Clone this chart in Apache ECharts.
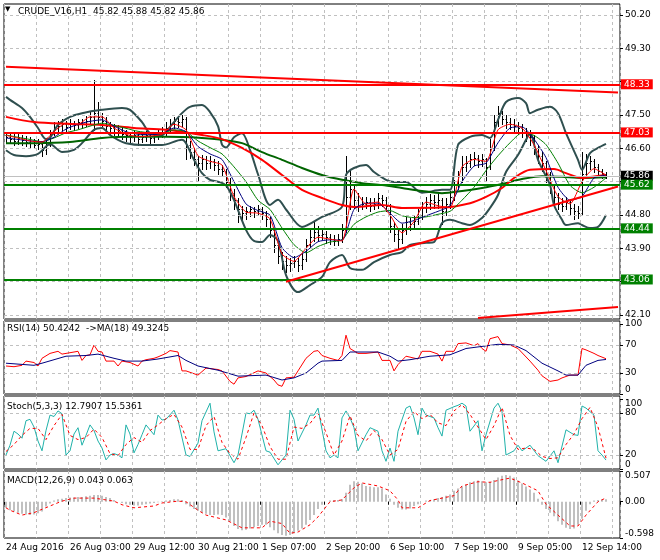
<!DOCTYPE html>
<html><head><meta charset="utf-8">
<script src="https://cdn.jsdelivr.net/npm/echarts@6/dist/echarts.min.js"></script>
<style>html,body{margin:0;padding:0;background:#fff}#c{width:660px;height:560px}</style>
</head><body><div id="c"></div>
<script>
const FONT = 'DejaVu Sans';
const N = 154;
const timeLabels = ['24 Aug 2016','26 Aug 03:00','29 Aug 12:00','30 Aug 21:00','1 Sep 07:00','2 Sep 20:00','6 Sep 10:00','7 Sep 19:00','9 Sep 05:00','12 Sep 14:00'];
const priceTicks = [42.10,43.00,43.90,44.80,45.70,46.60,47.50,48.40,49.30,50.20];
const priceLabelTicks = [42.10,43.90,44.80,46.60,47.50,49.30,50.20];
const rsiTicks = [0,30,70,100];
const rsiGrid = [30,70];
const stochTicks = [0,20,80,100];
const stochGrid = [20,80];
const macdTicks = [-0.598,0,0.507];

// [open, close, low, high]
const candles = [
[46.95,46.90,46.78,47.05],[46.90,46.85,46.75,47.00],[46.85,46.80,46.70,46.98],[46.80,46.88,46.72,47.02],[46.88,46.82,46.70,46.95],
[46.82,46.78,46.66,46.92],[46.78,46.75,46.62,46.90],[46.75,46.70,46.60,46.85],[46.70,46.72,46.58,46.84],[46.72,46.55,46.40,46.78],
[46.55,46.70,46.45,46.82],[46.70,47.00,46.65,47.10],[47.00,47.15,46.95,47.30],[47.15,47.20,47.05,47.35],[47.20,47.25,47.10,47.40],
[47.25,47.18,47.08,47.33],[47.18,47.28,47.12,47.38],[47.28,47.22,47.10,47.35],[47.22,47.30,47.15,47.40],[47.30,47.25,47.15,47.38],
[47.25,47.35,47.20,47.48],[47.35,47.45,47.28,47.60],[47.45,47.55,47.10,48.44],[47.55,47.45,47.25,47.85],[47.45,47.35,47.20,47.55],
[47.35,47.20,47.10,47.45],[47.20,47.15,47.00,47.30],[47.15,47.05,46.95,47.25],[47.05,47.10,46.90,47.22],[47.10,47.00,46.85,47.15],
[47.00,46.95,46.80,47.10],[46.95,46.90,46.75,47.05],[46.90,46.95,46.80,47.08],[46.95,46.85,46.70,47.00],[46.85,46.90,46.78,47.02],
[46.90,46.95,46.80,47.08],[46.95,46.88,46.75,47.02],[46.88,46.92,46.78,47.05],[46.92,47.00,46.85,47.12],[47.00,47.05,46.90,47.18],
[47.05,47.15,46.95,47.30],[47.15,47.25,47.05,47.38],[47.25,47.35,47.15,47.45],[47.35,47.30,47.18,47.42],[47.30,47.40,47.20,47.50],
[47.40,46.70,46.30,47.45],[46.70,46.50,46.35,46.80],[46.50,46.30,46.15,46.60],[46.30,46.20,45.75,46.40],[46.20,46.30,46.05,46.42],
[46.30,46.20,46.05,46.38],[46.20,46.25,46.08,46.38],[46.25,46.15,46.02,46.32],[46.15,46.05,45.92,46.25],[46.05,46.00,45.85,46.15],
[46.00,45.70,45.55,46.05],[45.70,45.40,45.20,45.80],[45.40,45.20,44.95,45.50],[45.20,44.95,44.60,45.25],[44.95,44.85,44.65,45.05],
[44.85,44.90,44.70,45.02],[44.90,44.95,44.78,45.05],[44.95,44.90,44.75,45.02],[44.90,44.95,44.80,45.08],[44.95,44.85,44.70,45.02],
[44.85,44.70,44.50,44.90],[44.70,44.40,44.20,44.75],[44.40,44.00,43.80,44.45],[44.00,43.70,43.50,44.05],[43.70,43.55,43.35,43.80],
[43.55,43.45,43.25,43.70],[43.45,43.50,43.30,43.65],[43.50,43.55,43.40,43.70],[43.55,43.45,43.28,43.65],[43.45,43.60,43.35,43.75],
[43.60,44.00,43.55,44.15],[44.00,44.20,43.90,44.40],[44.20,44.35,44.10,44.65],[44.35,44.25,44.10,44.50],[44.25,44.30,44.15,44.45],
[44.30,44.20,44.05,44.38],[44.20,44.15,44.02,44.30],[44.15,44.10,44.00,44.25],[44.10,44.15,44.00,44.30],[44.15,44.40,44.08,44.55],
[44.40,45.30,44.35,46.40],[45.30,45.50,44.95,46.00],[45.50,45.20,45.00,45.60],[45.20,45.05,44.90,45.40],[45.05,45.10,44.95,45.30],
[45.10,45.15,44.98,45.30],[45.15,45.05,44.92,45.25],[45.05,45.10,44.95,45.25],[45.10,45.25,45.00,45.40],[45.25,45.20,45.05,45.35],
[45.20,45.05,44.90,45.28],[45.05,44.50,44.35,45.10],[44.50,44.30,44.10,44.60],[44.30,44.15,43.90,44.40],[44.15,44.40,44.05,44.55],
[44.40,44.60,44.30,44.75],[44.60,44.55,44.40,44.72],[44.55,44.65,44.42,44.80],[44.65,44.80,44.55,44.95],[44.80,45.00,44.70,45.15],
[45.00,45.10,44.88,45.30],[45.10,45.20,44.95,45.38],[45.20,45.15,44.98,45.35],[45.15,45.20,45.00,45.40],[45.20,44.90,44.55,45.25],
[44.90,45.10,44.80,45.25],[45.10,45.30,45.00,45.45],[45.30,45.60,45.20,45.75],[45.60,45.85,45.50,46.00],[45.85,46.10,45.70,46.40],
[46.10,46.20,46.00,46.38],[46.20,46.30,46.10,46.45],[46.30,46.35,46.15,46.50],[46.35,46.25,46.10,46.42],[46.25,46.30,46.12,46.45],
[46.30,46.10,45.75,46.35],[46.10,46.60,46.05,46.85],[46.60,47.30,46.55,47.50],[47.30,47.55,47.20,47.75],[47.55,47.40,47.25,47.62],
[47.40,47.30,47.15,47.50],[47.30,47.25,47.12,47.42],[47.25,47.20,47.05,47.38],[47.20,47.15,47.00,47.32],[47.15,47.05,46.90,47.25],
[47.05,46.95,46.80,47.15],[46.95,46.90,46.70,47.10],[46.90,46.60,46.45,46.95],[46.60,46.40,46.20,46.70],[46.40,46.20,46.00,46.50],
[46.20,45.90,45.70,46.25],[45.90,45.60,45.40,45.95],[45.60,45.30,45.10,45.65],[45.30,45.10,44.95,45.40],[45.10,45.05,44.90,45.25],
[45.05,45.15,44.95,45.30],[45.15,45.00,44.82,45.22],[45.00,44.90,44.70,45.10],[44.90,44.85,44.72,45.05],[44.85,45.90,44.80,46.50],
[45.90,46.20,45.85,46.45],[46.20,46.25,46.05,46.40],[46.25,46.10,45.95,46.30],[46.10,46.00,45.88,46.18],[46.00,45.90,45.80,46.05],
[45.90,45.86,45.80,45.95]
];

const maFast = [[0,46.95],[3,46.88],[6,46.80],[9,46.77],[12,47.05],[15,47.28],[18,47.25],[21,47.45],[24,47.45],[27,47.15],[30,46.98],[33,46.92],[36,46.93],[39,46.98],[42,47.25],[45,47.10],[48,46.40],[51,46.25],[54,46.15],[57,45.30],[60,44.88],[63,44.85],[66,44.70],[69,43.75],[72,43.55],[75,43.90],[78,44.20],[81,44.15],[84,44.10],[87,45.50],[90,45.10],[93,45.15],[96,44.80],[99,44.32],[102,44.62],[105,45.15],[108,45.05],[111,45.00],[114,46.10],[117,46.30],[120,46.25],[123,47.10],[126,47.25],[129,47.15],[132,46.70],[135,46.00],[138,45.30],[141,45.10],[144,45.70],[147,46.05],[150,45.88]];
const maMid = [[0,46.88],[3,46.84],[6,46.80],[9,46.78],[12,46.90],[15,47.12],[18,47.25],[21,47.33],[24,47.37],[27,47.20],[30,47.05],[33,46.98],[36,46.97],[39,47.00],[42,47.15],[45,47.05],[48,46.65],[51,46.45],[54,46.30],[57,45.70],[60,45.10],[63,44.92],[66,44.80],[69,43.92],[72,43.65],[75,43.82],[78,44.08],[81,44.13],[84,44.12],[87,44.95],[90,45.12],[93,45.12],[96,44.85],[99,44.58],[102,44.65],[105,44.78],[108,44.90],[111,45.05],[114,45.70],[117,46.12],[120,46.20],[123,46.75],[126,47.15],[129,47.18],[132,46.85],[135,46.35],[138,45.55],[141,45.20],[144,45.30],[147,45.80],[150,45.88]];
const maSlowThin = [[0,46.96],[3,46.90],[6,46.84],[9,46.78],[12,46.88],[15,47.02],[18,47.10],[21,47.20],[24,47.28],[27,47.22],[30,47.14],[33,47.06],[36,47.02],[39,47.01],[42,47.10],[45,47.05],[48,46.80],[51,46.62],[54,46.45],[57,46.10],[60,45.70],[63,45.20],[66,44.95],[69,44.45],[72,44.00],[75,43.78],[78,43.95],[81,44.07],[84,44.13],[87,44.55],[90,44.75],[93,44.88],[96,44.92],[99,44.78],[102,44.73],[105,44.75],[108,44.82],[111,44.90],[114,45.20],[117,45.55],[120,46.00],[123,46.40],[126,46.75],[129,47.02],[132,46.95],[135,46.70],[138,46.20],[141,45.60],[144,45.40],[147,45.55],[150,45.80]];
const maRedThick = [[0,47.45],[7,47.31],[16,47.26],[24,47.23],[32,47.15],[40,47.10],[49,46.96],[54,46.85],[59,46.61],[64,46.29],[69,45.88],[74,45.48],[79,45.26],[84,45.07],[87,45.02],[94,45.07],[99,44.99],[109,45.00],[116,45.12],[120,45.29],[124,45.53],[127,45.80],[131,46.02],[137,46.04],[140,45.93],[144,45.80],[147,45.84],[150,45.88]];
const maGreenThick = [[0,46.74],[7,46.74],[16,46.77],[24,46.88],[32,46.91],[40,46.91],[49,46.88],[54,46.83],[59,46.74],[64,46.50],[69,46.29],[74,46.07],[79,45.88],[84,45.75],[89,45.66],[94,45.61],[99,45.53],[104,45.45],[109,45.39],[114,45.45],[119,45.53],[124,45.64],[129,45.77],[134,45.85],[139,45.83],[144,45.80],[150,45.82]];
const bbUpper = [[0,47.99],[1,47.91],[4,47.69],[6,47.45],[8,47.15],[10,46.85],[11,46.88],[13,47.23],[16,47.45],[19,47.55],[24,47.64],[29,47.69],[31,47.64],[34,47.31],[36,47.01],[39,46.96],[41,47.18],[44,47.55],[46,47.72],[49,47.77],[51,47.58],[53,47.20],[54,46.70],[55,46.62],[57,46.90],[59,47.01],[61,46.56],[63,45.90],[66,45.07],[68,45.21],[70,44.95],[74,44.48],[79,44.75],[84,45.02],[85,45.88],[87,46.07],[90,46.15],[92,45.96],[95,45.75],[97,45.69],[100,45.69],[104,45.40],[109,45.48],[111,45.48],[113,46.69],[116,46.91],[119,46.96],[121,46.88],[123,47.37],[125,47.85],[128,47.96],[130,47.82],[131,47.55],[133,47.64],[136,47.72],[138,47.55],[140,47.01],[143,46.29],[144,46.02],[146,46.47],[148,46.61],[150,46.72]];
const bbLower = [[0,46.55],[2,46.42],[5,46.39],[8,46.45],[10,46.65],[11,46.72],[13,46.56],[14,46.50],[17,46.56],[19,46.74],[22,47.10],[24,47.15],[26,46.96],[28,46.83],[30,46.74],[34,46.69],[39,46.69],[44,46.83],[45,46.74],[47,46.29],[49,45.93],[51,45.75],[53,45.70],[55,45.60],[57,45.20],[60,44.40],[62,44.10],[64,44.07],[66,44.26],[68,44.10],[70,43.18],[73,42.72],[76,42.91],[79,43.13],[81,43.53],[84,43.72],[86,43.37],[89,43.32],[92,43.53],[96,43.72],[99,43.80],[101,43.99],[105,44.05],[107,44.07],[109,44.58],[111,44.67],[114,44.58],[116,44.53],[119,44.72],[121,44.99],[123,45.34],[125,45.96],[128,46.42],[130,46.83],[131,47.01],[133,46.29],[136,45.61],[137,45.07],[139,44.67],[140,44.53],[143,44.58],[144,44.53],[146,44.45],[148,44.48],[150,44.80]];

const levelsRed = [48.33, 47.03];
const levelsGreen = [45.62, 44.44, 43.06];
const lastPrice = 45.86;
const trendLines = [
  [[0,48.80],[153,48.11]],
  [[70,43.00],[153,45.57]],
  [[118,42.02],[153,42.32]]
];

const rsi = [[0,40],[2,39],[4,41],[5,47],[7,45],[8,40],[9,51],[11,58],[13,61],[14,57],[16,59],[18,61],[19,48],[20,55],[21,56],[22,70],[23,61],[24,60],[25,47],[27,47],[28,40],[29,47],[31,45],[33,40],[34,47],[35,49],[37,51],[38,53],[40,58],[41,62],[43,60],[44,33],[45,33],[48,27],[50,37],[53,35],[54,33],[56,18],[57,14],[58,23],[60,25],[63,33],[65,30],[67,20],[68,13],[69,11],[70,23],[72,24],[73,33],[75,51],[77,61],[78,62],[79,55],[81,51],[83,48],[84,55],[85,84],[86,65],[88,58],[90,58],[93,60],[94,48],[96,48],[97,33],[98,42],[100,54],[103,50],[104,61],[106,61],[108,57],[109,47],[110,61],[112,61],[113,72],[115,73],[117,69],[118,72],[119,65],[120,61],[121,79],[123,82],[124,72],[126,70],[128,65],[131,47],[133,34],[134,26],[136,18],[138,20],[139,23],[141,27],[143,27],[144,65],[145,63],[147,58],[148,55],[150,50.42]];
const rsiMa = [[0,44],[7,41],[9,44],[15,54],[20,55],[23,57],[27,51],[30,47],[34,47],[38,50],[43,55],[45,48],[48,40],[53,34],[58,25.5],[65,27],[69,20],[72,23],[75,30],[78,44],[79,47],[84,48],[86,60],[93,60],[96,54],[98,47],[101,49],[106,54],[111,56],[115,65],[119,68],[123,71],[127,70],[130,62],[134,44],[138,33],[140,27],[143,27],[145,41],[148,48],[150,49.32]];

const stochMain = [[0,20],[1,34],[2,54],[3,50],[4,44],[5,69],[6,71],[7,60],[8,40],[9,26],[10,55],[11,77],[12,75],[13,83],[14,79],[15,20],[16,26],[17,50],[18,59],[19,34],[20,48],[21,63],[22,55],[23,40],[24,30],[25,13],[26,20],[27,22],[28,20],[29,16],[30,63],[31,50],[32,23],[33,35],[34,49],[35,63],[37,49],[38,77],[39,70],[40,71],[42,84],[43,70],[45,20],[46,18],[48,37],[49,69],[51,94],[52,53],[53,26],[55,29],[57,9],[58,20],[60,80],[61,79],[62,84],[63,71],[65,26],[66,24],[68,6],[70,20],[71,84],[72,71],[73,40],[75,63],[76,77],[77,77],[78,87],[80,26],[81,16],[82,20],[83,16],[84,73],[85,83],[86,73],[87,59],[88,26],[90,49],[91,59],[93,54],[94,26],[95,11],[96,30],[97,11],[98,54],[100,87],[101,90],[102,73],[103,49],[104,87],[105,77],[107,73],[108,59],[109,47],[110,84],[112,89],[113,91],[114,94],[115,90],[116,54],[118,69],[119,26],[120,49],[122,87],[123,94],[124,82],[125,20],[127,26],[128,34],[129,26],[131,34],[133,19],[134,15],[135,11],[137,26],[138,9],[140,56],[142,49],[143,48],[144,90],[145,87],[147,77],[148,26],[149,20],[150,12.79]];
const stochSignal = [[0,25],[2,35],[4,48],[6,58],[8,58],[10,42],[12,62],[14,78],[16,48],[18,42],[20,45],[22,57],[24,45],[26,22],[28,19],[30,35],[32,45],[34,38],[36,55],[38,63],[40,72],[42,78],[44,60],[46,28],[48,28],[50,62],[52,75],[54,38],[56,22],[58,14],[60,45],[62,80],[64,62],[66,32],[68,14],[70,14],[72,60],[74,58],[76,65],[78,80],[80,52],[82,20],[84,40],[86,76],[88,48],[90,40],[92,55],[94,42],[96,20],[98,28],[100,68],[102,82],[104,72],[106,78],[108,66],[110,62],[112,83],[114,92],[116,78],[118,60],[120,42],[122,62],[124,88],[126,48],[128,28],[130,30],[132,28],[134,18],[136,15],[138,16],[140,35],[142,50],[144,72],[146,88],[148,60],[150,15.54]];

const macdHist = [
-0.10,-0.14,-0.16,-0.18,-0.20,-0.21,-0.22,-0.21,-0.19,-0.16,
-0.08,-0.03,0.02,0.04,0.05,0.06,0.07,0.07,0.08,0.08,
0.09,0.10,0.11,0.11,0.10,0.08,0.06,0.03,0.00,-0.02,
-0.04,-0.05,-0.06,-0.06,-0.05,-0.04,-0.03,-0.02,-0.01,0.01,
0.02,0.03,0.04,0.04,0.03,-0.04,-0.08,-0.12,-0.15,-0.18,
-0.20,-0.22,-0.22,-0.21,-0.22,-0.26,-0.32,-0.40,-0.45,-0.47,
-0.46,-0.44,-0.42,-0.40,-0.38,-0.38,-0.42,-0.47,-0.52,-0.55,
-0.56,-0.55,-0.52,-0.48,-0.44,-0.38,-0.30,-0.22,-0.12,-0.05,
0.00,0.02,0.03,0.03,0.04,0.15,0.28,0.34,0.33,0.30,
0.26,0.25,0.24,0.24,0.22,0.12,0.05,-0.05,-0.10,-0.13,
-0.13,-0.11,-0.07,-0.04,0.00,0.02,0.03,0.04,0.06,0.08,
0.10,0.12,0.18,0.22,0.25,0.28,0.32,0.34,0.35,0.34,
0.32,0.33,0.36,0.40,0.43,0.44,0.43,0.40,0.35,0.30,
0.25,0.20,0.15,0.05,-0.05,-0.12,-0.18,-0.24,-0.32,-0.38,
-0.43,-0.45,-0.44,-0.38,-0.28,-0.15,-0.04,0.02,0.03,0.04,
0.043];
const macdSignal = [[0,-0.10],[1,-0.14],[4,-0.22],[7,-0.18],[11,-0.07],[14,0.01],[17,0.06],[22,0.06],[27,0.01],[29,-0.05],[32,-0.10],[37,-0.07],[39,-0.02],[43,0.01],[45,0.00],[48,-0.14],[50,-0.22],[55,-0.30],[59,-0.43],[64,-0.43],[66,-0.32],[69,-0.36],[71,-0.52],[73,-0.50],[76,-0.38],[78,-0.25],[81,0.00],[84,0.03],[87,0.23],[89,0.31],[93,0.26],[96,0.18],[98,0.03],[99,-0.10],[103,-0.10],[106,0.02],[109,0.06],[112,0.10],[114,0.26],[118,0.33],[121,0.32],[123,0.35],[126,0.39],[129,0.31],[133,0.18],[135,-0.04],[138,-0.22],[141,-0.40],[143,-0.40],[145,-0.22],[148,0.00],[150,0.063]];

const categories = Array.from({length: N}, (_, i) => String(i));
const GRID = '#c0c0c0';
const DASH = [3, 3];

function ln(data, color, width, g, opts) {
  return Object.assign({type: 'line', data: data, xAxisIndex: g, yAxisIndex: g, symbol: 'none', showSymbol: false,
    lineStyle: {color: color, width: width}, silent: true, z: 3}, opts || {});
}
function gridMarks(g, vals) {
  return {type: 'line', data: [], xAxisIndex: g, yAxisIndex: g, z: 1, silent: true,
    markLine: {silent: true, symbol: ['none','none'], label: {show: false},
      lineStyle: {color: GRID, type: DASH, width: 1},
      data: vals.map(v => ({yAxis: v}))}};
}
function levelLabel(bg) {
  return {show: true, position: 'end', distance: 1, formatter: p => p.value.toFixed(2),
    color: '#fff', backgroundColor: bg, padding: [1, 3, 0, 3], fontSize: 9, fontFamily: FONT};
}
const xAxes = [0,1,2,3].map(g => ({
  type: 'category', gridIndex: g, data: categories, boundaryGap: true,
  axisLine: {show: false},
  axisTick: g === 3 ? {show: true, length: 3, interval: (i) => i % 16 === 0, lineStyle: {color: '#000'}} : {show: false},
  axisLabel: g === 3 ? {show: true, interval: (i) => i % 16 === 0, formatter: (v, i) => timeLabels[i / 16],
    align: 'left', color: '#000', fontSize: 9, fontFamily: FONT, margin: 5} : {show: false},
  splitLine: {show: true, interval: (i) => i % 8 === 0, lineStyle: {color: GRID, type: DASH, width: 1}}
}));
function yAx(g, min, max, ticks, labels, fmt, alignMin, alignMax) {
  const lab = {show: true, customValues: labels, formatter: fmt, color: '#000', fontSize: 9, fontFamily: FONT, margin: 5,
    showMinLabel: true, showMaxLabel: true, hideOverlap: false};
  if (alignMin) lab.verticalAlignMinLabel = 'bottom';
  if (alignMax) lab.verticalAlignMaxLabel = 'top';
  return {type: 'value', gridIndex: g, position: 'right', min: min, max: max,
    axisLine: {show: false}, splitLine: {show: false},
    axisTick: {show: true, length: 3, customValues: ticks, lineStyle: {color: '#000'}},
    axisLabel: lab};
}
const gridBase = {left: 4, width: 616, show: true, borderColor: '#000', borderWidth: 1, backgroundColor: 'transparent'};
const tStyle = {fontSize: 9, fontWeight: 'normal', color: '#000', fontFamily: FONT};

// OHLC bars (MetaTrader style): vertical high-low line, open tick left, close tick right
function renderBar(params, api) {
  const i = api.value(0);
  const pO = api.coord([i, api.value(1)]);
  const pC = api.coord([i, api.value(2)]);
  const pL = api.coord([i, api.value(3)]);
  const pH = api.coord([i, api.value(4)]);
  const x = Math.round(pL[0]) + 0.5;
  const st = {stroke: '#000', lineWidth: 1};
  return {type: 'group', children: [
    {type: 'line', shape: {x1: x, y1: Math.round(pH[1]), x2: x, y2: Math.round(pL[1]) + 1}, style: st},
    {type: 'line', shape: {x1: x - 1, y1: Math.round(pO[1]) + 0.5, x2: x, y2: Math.round(pO[1]) + 0.5}, style: st},
    {type: 'line', shape: {x1: x, y1: Math.round(pC[1]) + 0.5, x2: x + 1.5, y2: Math.round(pC[1]) + 0.5}, style: st}
  ]};
}
const barData = candles.map((c, i) => [i, c[0], c[1], c[2], c[3]]);

const option = {
  animation: false,
  backgroundColor: '#fff',
  textStyle: {fontFamily: FONT},
  title: [
    {text: '▼', left: 5, top: 6, padding: 0, textStyle: Object.assign({}, tStyle, {fontSize: 7})},
    {text: 'CRUDE_V16,H1  45.82 45.88 45.82 45.86', left: 18, top: 7, padding: 0, textStyle: tStyle},
    {text: 'RSI(14) 50.4242  ->MA(18) 49.3245', left: 7, top: 324, padding: 0, textStyle: tStyle},
    {text: 'Stoch(5,3,3) 12.7907 15.5361', left: 7, top: 402, padding: 0, textStyle: tStyle},
    {text: 'MACD(12,26,9) 0.043 0.063', left: 7, top: 476, padding: 0, textStyle: tStyle}
  ],
  grid: [
    Object.assign({}, gridBase, {top: 4, height: 315}),
    Object.assign({}, gridBase, {top: 321, height: 73}),
    Object.assign({}, gridBase, {top: 396, height: 73}),
    Object.assign({}, gridBase, {top: 471, height: 67})
  ],
  xAxis: xAxes,
  yAxis: [
    yAx(0, 41.993, 50.497, priceTicks, priceLabelTicks, v => v.toFixed(2), false, false),
    yAx(1, 0, 104.3, rsiTicks, [0, 30, 70, 100, 104.3], v => v > 101 ? '' : String(Math.round(v)), true, false),
    yAx(2, 0, 104.3, stochTicks, stochTicks, v => String(Math.round(v)), true, true),
    yAx(3, -0.598, 0.507, macdTicks, macdTicks, v => v === 0 ? '0.00' : v.toFixed(3), true, true)
  ],
  series: [
    gridMarks(0, priceTicks),
    gridMarks(1, rsiGrid),
    gridMarks(2, stochGrid),
    {type: 'custom', data: barData, xAxisIndex: 0, yAxisIndex: 0, renderItem: renderBar, silent: true, z: 2,
      encode: {x: 0, y: [1, 2, 3, 4]}},
    ln(bbUpper, '#2f4f4f', 2, 0, {smooth: 0.3}),
    ln(bbLower, '#2f4f4f', 2, 0, {smooth: 0.3}),
    ln(maGreenThick, '#006400', 2, 0, {smooth: 0.3}),
    ln(maRedThick, '#ff0000', 2, 0, {smooth: 0.3}),
    ln(maSlowThin, '#008000', 1, 0, {smooth: 0.2}),
    ln(maMid, '#000080', 1, 0, {smooth: 0.2}),
    ln(maFast, '#ff0000', 1, 0, {smooth: 0.2}),
    {type: 'line', data: [], xAxisIndex: 0, yAxisIndex: 0, z: 4, silent: true,
      markLine: {silent: true, symbol: ['none','none'],
        data: [
          {yAxis: lastPrice, lineStyle: {color: '#c0c0c0', width: 1, type: 'solid'}, label: levelLabel('#000')},
          ...levelsRed.map(v => ({yAxis: v, lineStyle: {color: '#ff0000', width: 2, type: 'solid'}, label: levelLabel('#ff0000')})),
          ...levelsGreen.map(v => ({yAxis: v, lineStyle: {color: '#008000', width: 2, type: 'solid'}, label: levelLabel('#008000')}))
        ]}},
    {type: 'line', data: [], xAxisIndex: 0, yAxisIndex: 0, z: 4, silent: true,
      markLine: {silent: true, symbol: ['none','none'], label: {show: false},
        lineStyle: {color: '#ff0000', width: 2, type: 'solid'},
        data: trendLines.map(t => [{coord: t[0]}, {coord: t[1]}])}},
    ln(rsi, '#ff0000', 1, 1),
    ln(rsiMa, '#000080', 1, 1),
    ln(stochMain, '#20b2aa', 1, 2),
    ln(stochSignal, '#ff0000', 1, 2, {lineStyle: {color: '#ff0000', width: 1, type: DASH}}),
    {type: 'bar', data: macdHist, xAxisIndex: 3, yAxisIndex: 3, barWidth: 2, silent: true, itemStyle: {color: '#c0c0c0'}, z: 2},
    ln(macdSignal, '#ff0000', 1, 3, {lineStyle: {color: '#ff0000', width: 1, type: DASH}})
  ]
};
const chart = echarts.init(document.getElementById('c'), null, {renderer: 'canvas'});
chart.setOption(option);
</script></body></html>
